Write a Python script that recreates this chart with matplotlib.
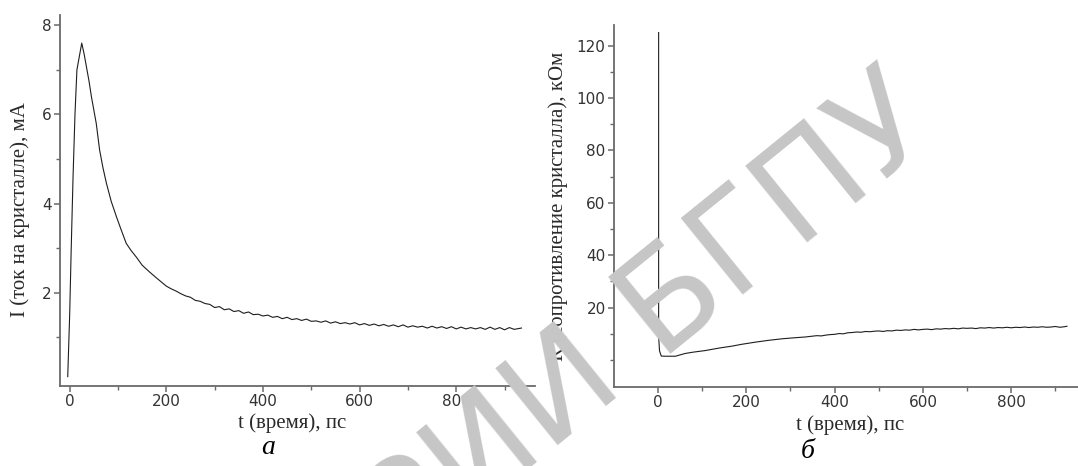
import matplotlib
matplotlib.use("Agg")
import matplotlib.pyplot as plt

# ==== DATA ====
# (а) current through the crystal, mA
t_a = [-4, 0, 3, 7, 11, 15, 20, 25, 30, 35, 40, 45, 50, 55, 62, 69, 76, 86,
       97, 107, 117, 127, 138, 150, 165, 180, 190,
       200, 210, 220, 230, 240, 250, 260, 270, 280, 290, 300, 310, 320, 330,
       340, 350, 360, 370, 380, 390, 400, 410, 420, 430, 440, 450, 460, 470,
       480, 490, 500, 510, 520, 530, 540, 550, 560, 570, 580, 590, 600, 610,
       620, 630, 640, 650, 660, 670, 680, 690, 700, 710, 720, 730, 740, 750,
       760, 770, 780, 790, 800, 810, 820, 830, 840, 850, 860, 870, 880, 890,
       900, 910, 920, 935]
i_a = [0.12, 1.5, 2.9, 4.6, 6.0, 7.0, 7.3, 7.6, 7.35, 7.05, 6.75, 6.4, 6.1,
       5.8, 5.2, 4.8, 4.46, 4.05, 3.7, 3.4, 3.11, 2.95, 2.8, 2.62, 2.47,
       2.33, 2.24,
       2.15, 2.09, 2.04, 1.98, 1.93, 1.9, 1.83, 1.81, 1.76, 1.74, 1.67, 1.69,
       1.62, 1.64, 1.58, 1.6, 1.54, 1.57, 1.51, 1.52, 1.48, 1.5, 1.45, 1.47,
       1.42, 1.45, 1.4, 1.42, 1.38, 1.41, 1.36, 1.37, 1.34, 1.37, 1.32, 1.35,
       1.31, 1.33, 1.3, 1.33, 1.28, 1.31, 1.27, 1.3, 1.26, 1.29, 1.25, 1.28,
       1.24, 1.28, 1.23, 1.26, 1.23, 1.25, 1.21, 1.25, 1.21, 1.24, 1.2, 1.24,
       1.19, 1.23, 1.19, 1.22, 1.19, 1.22, 1.18, 1.23, 1.18, 1.22, 1.17, 1.22,
       1.18, 1.21]

# (б) crystal resistance, kOhm
t_b = [2, 2, 4, 8, 17, 40, 62, 80, 107, 140, 168, 190, 220, 250, 281, 310,
       334, 360, 370, 380, 390, 400, 410, 420, 430, 440, 450, 460, 470, 480,
       490, 500, 510, 520, 530, 540, 550, 560, 570, 580, 590, 600, 610, 620,
       630, 640, 650, 660, 670, 680, 690, 700, 710, 720, 730, 740, 750, 760,
       770, 780, 790, 800, 810, 820, 830, 840, 850, 860, 870, 880, 890, 900,
       910, 920, 926]
r_b = [125, 9.1, 3.5, 1.5, 1.45, 1.45, 2.5, 3.0, 3.6, 4.6, 5.3, 6.0, 6.8,
       7.5, 8.1, 8.5, 8.8, 9.3, 9.2, 9.5, 9.7, 9.8, 10.1, 10.0, 10.4, 10.5,
       10.7, 10.6, 10.9, 10.8, 11.0, 11.1, 10.9, 11.2, 11.1, 11.4, 11.3, 11.5,
       11.4, 11.7, 11.5, 11.7, 11.8, 11.6, 11.9, 11.8, 12.0, 11.9, 12.1, 11.9,
       12.2, 12.1, 12.2, 12.0, 12.3, 12.2, 12.4, 12.2, 12.4, 12.3, 12.5, 12.3,
       12.5, 12.4, 12.6, 12.4, 12.6, 12.5, 12.7, 12.5, 12.6, 12.8, 12.5, 12.7,
       12.9]

x_major = [0, 200, 400, 600, 800]
x_minor = [100, 300, 500, 700, 900]
ya_major = [2, 4, 6, 8]
ya_minor = [1, 3, 5, 7]
yb_major = [20, 40, 60, 80, 100, 120]
yb_minor = [0, 10, 30, 50, 70, 90, 110]

xlabel = "t (время), пс"
ylabel_a = "I (ток на кристалле), мА"
ylabel_b = "R (сопротивление кристалла), кОм"

# ==== STYLE ====
W, H = 1078, 466
axis_color = "#6a6a6a"
line_color = "#1e1e1e"
tick_color = "#333333"
label_color = "#2a2a2a"
serif = "Liberation Serif"

fig = plt.figure(figsize=(W / 100, H / 100), dpi=100)


def px_rect(x0, y0, x1, y1):
    # pixel box (top-left origin) -> figure fraction
    return [x0 / W, 1 - y1 / H, (x1 - x0) / W, (y1 - y0) / H]


def style_axes(ax):
    for side in ("top", "right"):
        ax.spines[side].set_visible(False)
    for side in ("left", "bottom"):
        ax.spines[side].set_color(axis_color)
        ax.spines[side].set_linewidth(1.3)
    ax.tick_params(which="major", direction="out", length=4, width=1.1,
                   color=axis_color, labelsize=11, labelcolor=tick_color, pad=2)
    ax.tick_params(which="minor", direction="out", length=3, width=1.0,
                   color=axis_color)
    ax.set_xticks(x_major)
    ax.set_xticks(x_minor, minor=True)


# ==== PANEL а ====
ax1 = fig.add_axes(px_rect(60, 15, 535, 386))
ax1.plot(t_a, i_a, color=line_color, lw=0.8)
ax1.set_xlim(-20, 963)
ax1.set_ylim(-0.09, 8.23)
style_axes(ax1)
ax1.set_yticks(ya_major)
ax1.set_yticks(ya_minor, minor=True)

# ==== PANEL б ====
ax2 = fig.add_axes(px_rect(614, 25, 1078, 387))
ax2.plot(t_b, r_b, color=line_color, lw=0.8)
ax2.set_xlim(-99, 951)
ax2.set_ylim(-10.3, 127.9)
style_axes(ax2)
ax2.set_yticks(yb_major)
ax2.set_yticks(yb_minor, minor=True)

# axis titles and captions
fig.text(292 / W, 1 - 423 / H, xlabel, family=serif, fontsize=15,
         ha="center", va="center", color=label_color)
fig.text(850 / W, 1 - 425 / H, xlabel, family=serif, fontsize=15,
         ha="center", va="center", color=label_color)
fig.text(20 / W, 1 - 210 / H, ylabel_a, family=serif, fontsize=15,
         rotation=90, ha="center", va="center", color=label_color)
fig.text(558 / W, 1 - 206 / H, ylabel_b, family=serif, fontsize=15,
         rotation=90, ha="center", va="center", color=label_color)
fig.text(268 / W, 1 - 448 / H, "а", family=serif, style="italic",
         fontsize=20, ha="center", va="center", color="black")
fig.text(808 / W, 1 - 452 / H, "б", family=serif, style="italic",
         fontsize=20, ha="center", va="center", color="black")

# library watermark across the right panel
fig.text(650 / W, 1 - 323 / H, "РИИ БГПУ", family="DejaVu Sans",
         fontsize=98, rotation=39, ha="center", va="center",
         color="#c6c6c6", zorder=10)

fig.savefig("out.png", dpi=100)
